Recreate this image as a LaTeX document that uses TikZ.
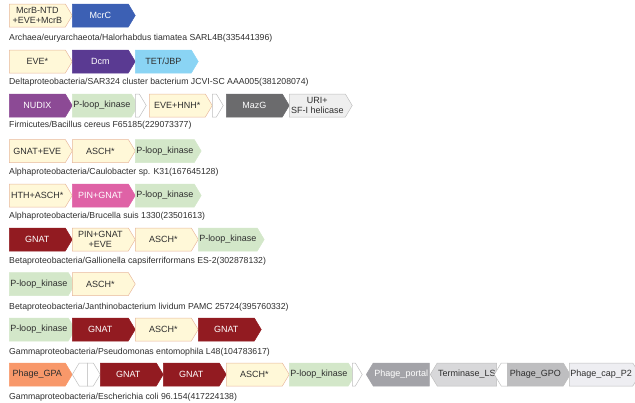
\documentclass[tikz,border=0pt]{standalone}
\usepackage{fontspec}
\setmainfont{Liberation Sans}
\usetikzlibrary{shapes.symbols}
\definecolor{txt}{HTML}{2E2E2E}
\definecolor{ylw}{HTML}{FFF8D8}
\definecolor{ylwb}{HTML}{E8B89C}
\definecolor{grn}{HTML}{D3E7C9}
\definecolor{mcrcblue}{HTML}{3C60B4}
\definecolor{dcmpurple}{HTML}{5A3A92}
\definecolor{tetblue}{HTML}{8AD4F4}
\definecolor{nudix}{HTML}{8C4A95}
\definecolor{mazg}{HTML}{6B6B6D}
\definecolor{lgray}{HTML}{EFEFEF}
\definecolor{lgrayb}{HTML}{BDBDBD}
\definecolor{pink}{HTML}{DF62A6}
\definecolor{gnatred}{HTML}{921B21}
\definecolor{gpa}{HTML}{F8986A}
\definecolor{portal}{HTML}{A3A3A8}
\definecolor{termls}{HTML}{D8D8DA}
\definecolor{gpo}{HTML}{BEBEC0}
\definecolor{capp}{HTML}{EEEEF2}
\begin{document}
\begin{tikzpicture}[x=1pt,y=-1pt]
\useasboundingbox (0,0) rectangle (635,402);
\tikzset{gene/.style={signal,signal to=east,signal pointer angle=118,minimum width=63pt,minimum height=23pt,
  inner sep=1pt,anchor=west,align=center,line width=0.5pt,text=txt,font=\fontsize{9}{9.8}\selectfont},
back/.style={gene,signal to=west},
blank/.style={minimum width=13pt,draw=lgrayb,fill=white},
yel/.style={fill=ylw,draw=ylwb},
kin/.style={fill=grn,draw=grn},
dark/.style={fill=#1,draw=#1,text=white},
light/.style={fill=#1,draw=lgrayb},
gnat/.style={dark=gnatred},
org/.style={anchor=west,inner sep=0pt,text=txt,font=\fontsize{8.7}{10}\selectfont}}
% Halorhabdus
\node[gene,yel] (a1) at (9,15.5) {McrB-NTD\\+EVE+McrB};
\node[gene,dark=mcrcblue] (a2) at (72,15.5) {McrC};
\node[org] (la) at (9,38) {Archaea/euryarchaeota/Halorhabdus tiamatea SARL4B(335441396)};
% SAR324
\node[gene,yel] (b1) at (9,61.5) {EVE*};
\node[gene,dark=dcmpurple] (b2) at (72,61.5) {Dcm};
\node[gene,light=tetblue,draw=tetblue] (b3) at (135,61.5) {TET/JBP};
\node[org] (lb) at (9,82) {Deltaproteobacteria/SAR324 cluster bacterium JCVI-SC AAA005(381208074)};
% Bacillus
\node[gene,dark=nudix] (c1) at (9,105.5) {NUDIX};
\node[gene,kin] (c2) at (72,105.5) {P-loop\_kinase};
\node[gene,blank,minimum width=11pt] (c3) at (135,105.5) {};
\node[gene,yel] (c4) at (149,105.5) {EVE+HNH*};
\node[gene,blank,minimum width=11pt] (c5) at (212,105.5) {};
\node[gene,dark=mazg] (c6) at (226,105.5) {MazG};
\node[gene,light=lgray] (c7) at (289,105.5) {URI+\\SF-I helicase};
\node[org] (lc) at (9,125) {Firmicutes/Bacillus cereus F65185(229073377)};
% Caulobacter
\node[gene,yel] (d1) at (9,151) {GNAT+EVE};
\node[gene,yel] (d2) at (72,151) {ASCH*};
\node[gene,kin] (d3) at (135,151) {P-loop\_kinase};
\node[org] (ld) at (9,172) {Alphaproteobacteria/Caulobacter sp. K31(167645128)};
% Brucella
\node[gene,yel] (e1) at (9,195.5) {HTH+ASCH*};
\node[gene,dark=pink] (e2) at (72,195.5) {PIN+GNAT};
\node[gene,kin] (e3) at (135,195.5) {P-loop\_kinase};
\node[org] (le) at (9,216) {Alphaproteobacteria/Brucella suis 1330(23501613)};
% Gallionella
\node[gene,gnat] (f1) at (9,239.5) {GNAT};
\node[gene,yel] (f2) at (72,239.5) {PIN+GNAT\\+EVE};
\node[gene,yel] (f3) at (135,239.5) {ASCH*};
\node[gene,kin] (f4) at (198,239.5) {P-loop\_kinase};
\node[org] (lf) at (9,261) {Betaproteobacteria/Gallionella capsiferriformans ES-2(302878132)};
% Janthinobacterium
\node[gene,kin] (g1) at (9,284) {P-loop\_kinase};
\node[gene,yel] (g2) at (72,284) {ASCH*};
\node[org] (lg) at (9,307) {Betaproteobacteria/Janthinobacterium lividum PAMC 25724(395760332)};
% Pseudomonas
\node[gene,kin] (h1) at (9,329.5) {P-loop\_kinase};
\node[gene,gnat] (h2) at (72,329.5) {GNAT};
\node[gene,yel] (h3) at (135,329.5) {ASCH*};
\node[gene,gnat] (h4) at (198,329.5) {GNAT};
\node[org] (lh) at (9,352) {Gammaproteobacteria/Pseudomonas entomophila L48(104783617)};
% Escherichia
\node[gene,fill=gpa,draw=gpa] (i1) at (9,374.5) {Phage\_GPA};
\node[back,blank,minimum width=15pt] (i2) at (72,374.5) {};
\node[gene,blank] (i3) at (87,374.5) {};
\node[gene,gnat] (i4) at (100,374.5) {GNAT};
\node[gene,gnat] (i5) at (163,374.5) {GNAT};
\node[gene,yel] (i6) at (226,374.5) {ASCH*};
\node[gene,kin] (i7) at (289,374.5) {P-loop\_kinase};
\node[gene,blank,minimum width=10pt] (i8) at (352,374.5) {};
\node[back,dark=portal] (i9) at (366,374.5) {Phage\_portal};
\node[back,light=termls] (i10) at (430,374.5) {Terminase\_LS};
\node[back,blank] (i11) at (494,374.5) {};
\node[gene,light=gpo] (i12) at (507,374.5) {Phage\_GPO};
\node[gene,light=capp] (i13) at (569,374.5) {Phage\_cap\_P2};
\node[org] (li) at (9,397) {Gammaproteobacteria/Escherichia coli 96.154(417224138)};
\end{tikzpicture}
\end{document}
